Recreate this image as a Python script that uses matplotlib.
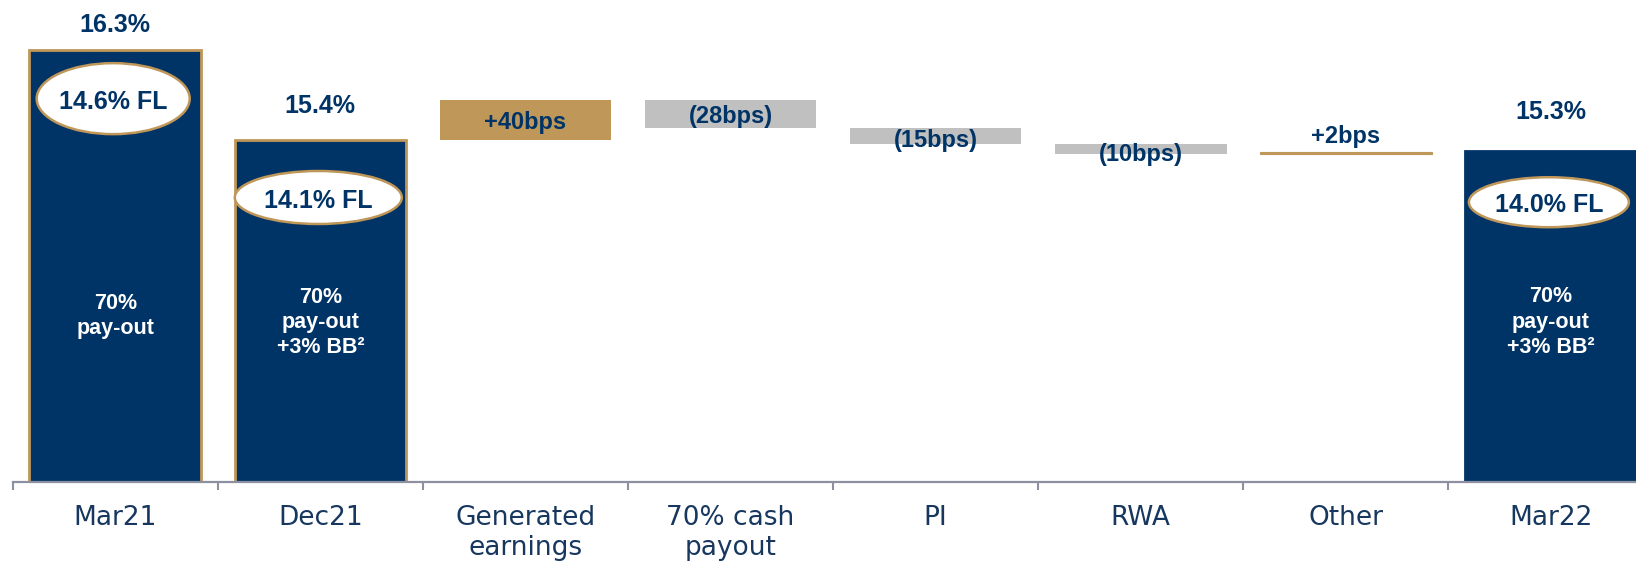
import matplotlib
matplotlib.use("Agg")
import matplotlib.pyplot as plt
from matplotlib.patches import Ellipse

# data
categories = ["Mar21", "Dec21", "Generated\nearnings", "70% cash\npayout", "PI", "RWA", "Other", "Mar22"]
totals = [16.3, 15.4, 15.3]          # Mar21, Dec21, Mar22
total_labels = ["16.3%", "15.4%", "15.3%"]
fl_labels = ["14.6% FL", "14.1% FL", "14.0% FL"]
payout_notes = ["70%\npay-out", "70%\npay-out\n+3% BB\u00b2", "70%\npay-out\n+3% BB\u00b2"]
deltas = [0.40, -0.28, -0.15, -0.10, 0.02]
delta_labels = ["+40bps", "(28bps)", "(15bps)", "(10bps)", "+2bps"]

NAVY = "#003366"
GOLD = "#bf9759"
GREY = "#c0c0c0"
TICK_NAVY = "#17375e"
AXIS_GREY = "#8c90a0"

fig = plt.figure(figsize=(16.36, 5.61), dpi=100)
ax = fig.add_axes([0.00776, 0.14135, 1.00293, 0.85865])
ymin = 12.0
ax.set_ylim(ymin, 16.8)
ax.set_xlim(-0.5, 7.5)

bar_w = 0.837
total_x = [0, 1, 7]

# total bars
for i, (x, v) in enumerate(zip(total_x, totals)):
    edge = GOLD if i < 2 else NAVY
    ax.bar(x, v - ymin, bottom=ymin, width=bar_w, color=NAVY, edgecolor=edge, linewidth=2, zorder=2)

# waterfall steps
level = totals[1]
for j, d in enumerate(deltas):
    x = 2 + j
    lo, hi = min(level, level + d), max(level, level + d)
    col = GOLD if d > 0 else GREY
    ax.bar(x, hi - lo, bottom=lo, width=bar_w, color=col, edgecolor=col, linewidth=0.8 if j == 4 else 0, zorder=2)
    pad = [0, 0, -0.02, -0.03, 0.18][j] - 0.025
    ax.text(x, (lo + hi) / 2 + pad, delta_labels[j], ha="center", va="center",
            fontsize=17, fontweight="bold", color=NAVY, family="Liberation Sans", zorder=4)
    level += d

# value labels above totals
label_pad = [0.25, 0.34, 0.38]
for x, v, lab, p in zip(total_x, totals, total_labels, label_pad):
    ax.text(x, v + p, lab, ha="center", va="center", fontsize=18, fontweight="bold",
            color=NAVY, family="Liberation Sans")

# fully-loaded ellipses
ell_y = [15.817, 14.832, 14.785]
ell_w = [153 / 205.1, 167 / 205.1, 160 / 205.1]
ell_h = [71 / 100.35, 53 / 100.35, 50 / 100.35]
for x, y, w, h, lab in zip(total_x, ell_y, ell_w, ell_h, fl_labels):
    ax.add_patch(Ellipse((x - 0.01, y), w, h, facecolor="white", edgecolor=GOLD, linewidth=1.8, zorder=3))
    ax.text(x - 0.01, y - 0.03, lab, ha="center", va="center", fontsize=18, fontweight="bold",
            color=NAVY, family="Liberation Sans", zorder=4)

# pay-out notes inside bars
note_y = [13.65, 13.585, 13.59]
for x, y, lab in zip(total_x, note_y, payout_notes):
    ax.text(x, y, lab, ha="center", va="center", fontsize=15.5, fontweight="bold",
            color="white", family="Liberation Sans", linespacing=1.27, zorder=4)

# axis styling
for s in ["top", "right", "left"]:
    ax.spines[s].set_visible(False)
ax.spines["bottom"].set_color(AXIS_GREY)
ax.spines["bottom"].set_linewidth(1.6)
ax.set_yticks([])
ax.set_xticks([i - 0.5 for i in range(9)])
ax.set_xticklabels([])
ax.tick_params(axis="x", which="major", length=6, width=1.5, color=AXIS_GREY, direction="out")
ax.set_xticks(range(8), minor=True)
ax.set_xticklabels(categories, minor=True, fontsize=19, color=TICK_NAVY, family="DejaVu Sans", linespacing=1.2)
ax.tick_params(axis="x", which="minor", length=0, pad=16.5)

fig.savefig("out.png", dpi=100)
